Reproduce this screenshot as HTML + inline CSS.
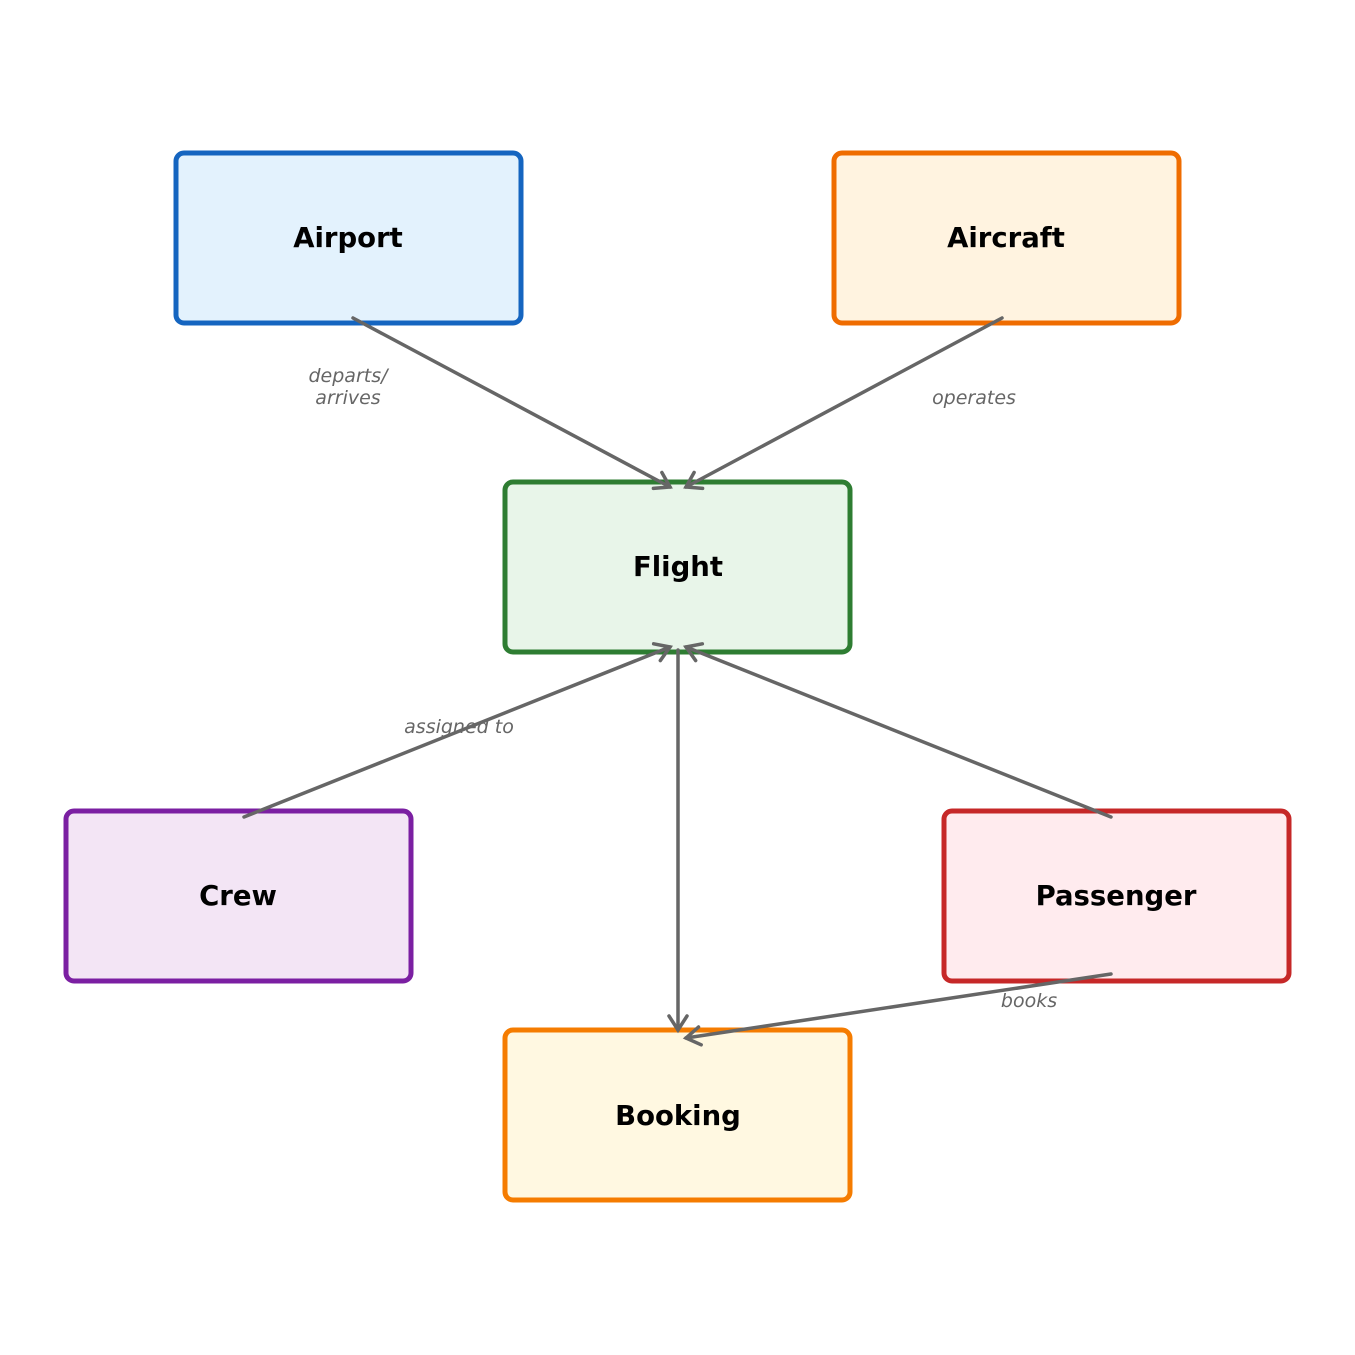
<!DOCTYPE html>
<html><head><meta charset="utf-8"><style>
html,body{margin:0;padding:0;background:#fff}
svg{display:block}
.t{font-family:"DejaVu Sans","Liberation Sans",sans-serif;font-weight:bold;font-size:27.5px;fill:#000;text-anchor:middle;dominant-baseline:central}
.l{font-family:"DejaVu Sans","Liberation Sans",sans-serif;font-style:italic;font-size:19px;fill:#666;text-anchor:middle;dominant-baseline:central}
</style></head><body>
<svg width="1355" height="1355" viewBox="0 0 1355 1355">
<defs><marker id="a" markerWidth="24" markerHeight="24" refX="20" refY="12" orient="auto" markerUnits="userSpaceOnUse"><path d="M6,3 L20,12 L6,21" fill="none" stroke="#666" stroke-width="3.5" stroke-linecap="round"/></marker></defs>
<rect x="176" y="153" width="345" height="170" rx="8" fill="#e3f2fd" stroke="#1565c0" stroke-width="5"/>
<rect x="834" y="153" width="345" height="170" rx="8" fill="#fff3e0" stroke="#ef6c00" stroke-width="5"/>
<rect x="505" y="482" width="345" height="170" rx="8" fill="#e8f5e9" stroke="#2e7d32" stroke-width="5"/>
<rect x="66" y="811" width="345" height="170" rx="8" fill="#f3e5f5" stroke="#7b1fa2" stroke-width="5"/>
<rect x="944" y="811" width="345" height="170" rx="8" fill="#ffebee" stroke="#c62828" stroke-width="5"/>
<rect x="505" y="1030" width="345" height="170" rx="8" fill="#fff8e1" stroke="#f57c00" stroke-width="5"/>
<text class="t" x="348" y="238">Airport</text>
<text class="t" x="1006" y="238">Aircraft</text>
<text class="t" x="678" y="567">Flight</text>
<text class="t" x="238" y="896">Crew</text>
<text class="t" x="1116" y="896">Passenger</text>
<text class="t" x="678" y="1116">Booking</text>
<g stroke="#666" stroke-width="3.5" fill="none" stroke-linecap="round">
<line x1="353" y1="318" x2="670" y2="487" marker-end="url(#a)"/>
<line x1="1002" y1="318" x2="686" y2="487" marker-end="url(#a)"/>
<line x1="244" y1="817" x2="670" y2="647" marker-end="url(#a)"/>
<line x1="1111" y1="817" x2="686" y2="647" marker-end="url(#a)"/>
<line x1="678" y1="650" x2="678" y2="1030" marker-end="url(#a)"/>
<line x1="1111" y1="974" x2="686" y2="1038" marker-end="url(#a)"/>
</g>
<text class="l" x="348" y="376">departs/</text>
<text class="l" x="348" y="398">arrives</text>
<text class="l" x="974" y="398">operates</text>
<text class="l" x="459" y="727">assigned to</text>
<text class="l" x="1029" y="1001">books</text>
</svg>
</body></html>
